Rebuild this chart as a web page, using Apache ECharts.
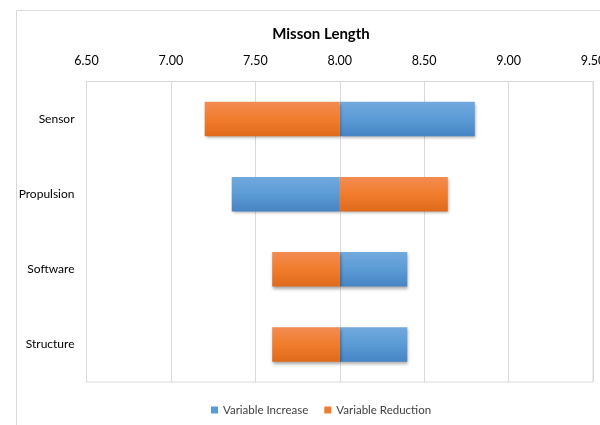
<!DOCTYPE html>
<html>
<head>
<meta charset="utf-8">
<script src="https://cdn.jsdelivr.net/npm/echarts@6/dist/echarts.min.js"></script>
<style>
html,body{margin:0;padding:0;background:#fff;}
#chart{width:600px;height:425px;}
</style>
</head>
<body>
<div id="chart"></div>
<script>
// Tornado data: each bar runs from the base value out to the series value
const categories = ['Sensor', 'Propulsion', 'Software', 'Structure'];
const baseValue = 8.0;
const variableIncrease = [8.80, 7.36, 8.40, 8.40];
const variableReduction = [7.20, 8.64, 7.60, 7.60];
const tickLabels = ['6.50', '7.00', '7.50', '8.00', '8.50', '9.00', '9.50'];

const FONT = "Lato, 'Open Sans', 'Noto Sans', sans-serif";

const blueFill = new echarts.graphic.LinearGradient(0, 0, 0, 1, [
  { offset: 0, color: '#72a9de' },
  { offset: 0.5, color: '#5b9bd5' },
  { offset: 1, color: '#4684c4' }
]);
const orangeFill = new echarts.graphic.LinearGradient(0, 0, 0, 1, [
  { offset: 0, color: '#f38c52' },
  { offset: 0.5, color: '#f07c2c' },
  { offset: 1, color: '#e06a1c' }
]);

function rangeBar(fill) {
  return function (params, api) {
    const cat = api.value(0);
    const val = api.value(1);
    const p0 = api.coord([baseValue, cat]);
    const p1 = api.coord([val, cat]);
    const h = api.size([0, 1])[1] * 0.46;
    const x = Math.min(p0[0], p1[0]);
    const w = Math.abs(p1[0] - p0[0]);
    return {
      type: 'rect',
      shape: { x: x, y: p0[1] - h / 2, width: w, height: h },
      style: {
        fill: fill,
        shadowBlur: 3,
        shadowOffsetX: 1,
        shadowOffsetY: 2,
        shadowColor: 'rgba(0,0,0,0.35)'
      }
    };
  };
}

function toData(values) {
  return values.map((v, i) => [i, v]);
}

const chart = echarts.init(document.getElementById('chart'), null, { renderer: 'canvas' });
chart.setOption({
  animation: false,
  backgroundColor: '#ffffff',
  title: {
    text: 'Misson Length',
    left: 316,
    top: 22,
    textAlign: 'center',
    textStyle: { fontFamily: FONT, fontSize: 15, fontWeight: 'bold', color: '#000' }
  },
  graphic: [{
    type: 'rect',
    z: -10,
    shape: { x: 16.5, y: 10.5, width: 700, height: 500 },
    style: { fill: 'none', stroke: '#d9d9d9', lineWidth: 1 }
  }],
  legend: {
    bottom: 4,
    left: 206,
    itemWidth: 7,
    itemHeight: 7,
    itemGap: 16,
    icon: 'rect',
    textStyle: { fontFamily: FONT, fontSize: 11.5, color: '#404040' },
    data: ['Variable Increase', 'Variable Reduction']
  },
  grid: {
    left: 86.5, right: 7, top: 81.5, bottom: 43,
    outerBoundsMode: 'none',
    containLabel: false,
    show: true, borderColor: '#d9d9d9', borderWidth: 1
  },
  xAxis: {
    type: 'value',
    position: 'top',
    min: 6.5,
    max: 9.5,
    interval: 0.5,
    axisLine: { show: false },
    axisTick: { show: false },
    axisLabel: {
      margin: 14,
      fontFamily: FONT,
      fontSize: 12.5,
      color: '#000',
      hideOverlap: false,
      formatter: function (v) {
        const idx = Math.round((v - 6.5) / 0.5);
        return tickLabels[idx] !== undefined ? tickLabels[idx] : '';
      }
    },
    splitLine: { show: true, lineStyle: { color: '#d9d9d9', width: 1 } }
  },
  yAxis: {
    type: 'category',
    inverse: true,
    data: categories,
    axisLine: { show: true, lineStyle: { color: '#d9d9d9' } },
    axisTick: { show: false },
    axisLabel: { margin: 12, fontFamily: FONT, fontSize: 12, color: '#000' }
  },
  series: [
    {
      name: 'Variable Increase',
      type: 'custom',
      renderItem: rangeBar(blueFill),
      itemStyle: { color: '#5b9bd5' },
      encode: { x: 1, y: 0 },
      data: toData(variableIncrease)
    },
    {
      name: 'Variable Reduction',
      type: 'custom',
      renderItem: rangeBar(orangeFill),
      itemStyle: { color: '#ed7d31' },
      encode: { x: 1, y: 0 },
      data: toData(variableReduction)
    }
  ]
});
</script>
</body>
</html>
